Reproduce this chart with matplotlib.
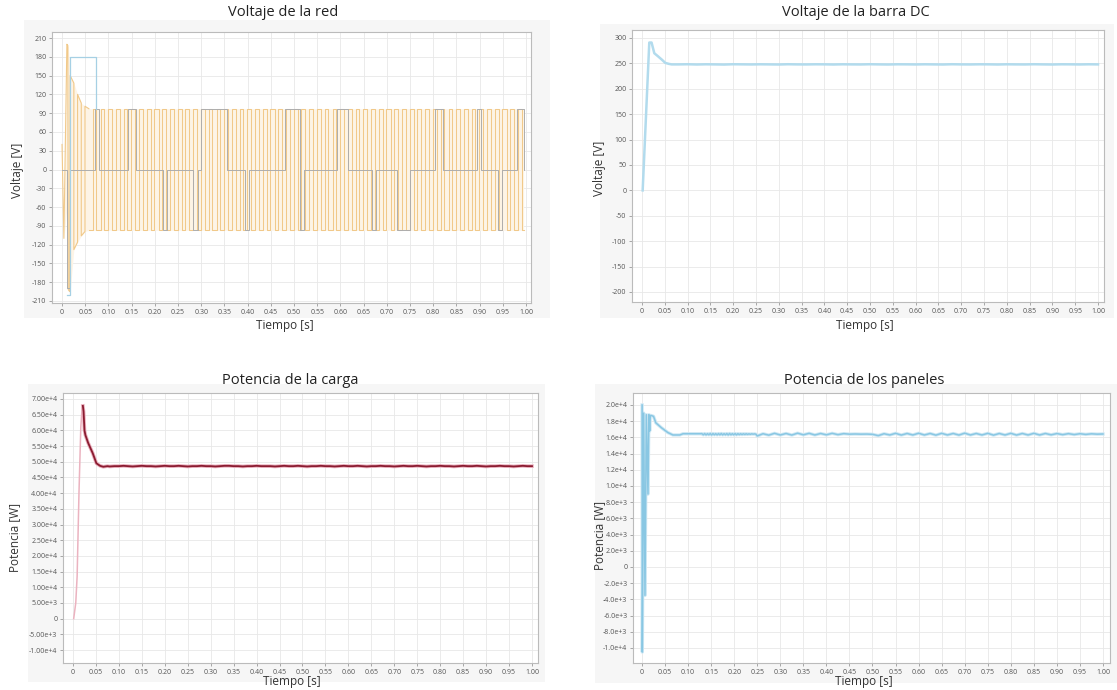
import numpy as np
import matplotlib
matplotlib.use("Agg")
import matplotlib.pyplot as plt
from matplotlib.patches import Rectangle

plt.rcParams['font.family'] = ['Open Sans', 'DejaVu Sans']

# ---------------- DATA ----------------
# Panel 1: Voltaje de la red
orange_tr_t = [0.000, 0.004, 0.0105, 0.0125, 0.0135, 0.0165, 0.0175, 0.0255, 0.0255,
               0.0335, 0.0335, 0.0415, 0.0415, 0.0495, 0.0495, 0.058]
orange_tr_v = [40, -110, 200, 198, -192, -195, 150, 138, -128, -116, 120, 106, -106,
               -99, 101, 97]
orange_edges = [0.058, 0.066, 0.074, 0.083, 0.091, 0.099, 0.108, 0.116, 0.124, 0.133,
                0.141, 0.149, 0.158, 0.166, 0.174, 0.183, 0.191, 0.199, 0.208, 0.216,
                0.224, 0.233, 0.241, 0.249, 0.258, 0.266, 0.274, 0.283, 0.291, 0.299,
                0.308, 0.316, 0.324, 0.333, 0.341, 0.349, 0.358, 0.366, 0.374, 0.383,
                0.391, 0.399, 0.408, 0.416, 0.424, 0.433, 0.441, 0.449, 0.458, 0.466,
                0.474, 0.483, 0.491, 0.499, 0.508, 0.516, 0.524, 0.533, 0.541, 0.549,
                0.558, 0.566, 0.574, 0.583, 0.591, 0.599, 0.608, 0.616, 0.624, 0.633,
                0.641, 0.649, 0.658, 0.666, 0.674, 0.683, 0.691, 0.699, 0.708, 0.716,
                0.724, 0.733, 0.741, 0.749, 0.758, 0.766, 0.774, 0.783, 0.791, 0.799,
                0.808, 0.816, 0.824, 0.833, 0.841, 0.849, 0.858, 0.866, 0.874, 0.883,
                0.891, 0.899, 0.908, 0.916, 0.924, 0.933, 0.941, 0.949, 0.958, 0.966,
                0.974, 0.983, 0.991]
orange_high = 97
orange_low = -97
orange_end = 0.995
env_t = [0.004, 0.0105, 0.0135, 0.0175, 0.0255, 0.0335, 0.0415, 0.0495, 0.058, 0.995]
env_hi = [-110, 200, 196, 150, 138, 120, 106, 101, 97, 97]
env_lo = [-110, -60, -192, -195, -128, -116, -106, -99, -97, -97]
gray_times = [0.000, 0.010, 0.017, 0.071, 0.079, 0.142, 0.160, 0.218, 0.226, 0.283,
              0.292, 0.300, 0.355, 0.395, 0.404, 0.480, 0.513, 0.521, 0.593, 0.616,
              0.668, 0.676, 0.722, 0.750, 0.804, 0.821, 0.894, 0.902, 0.940, 0.948,
              0.981, 0.995]
gray_levels = [0, -190, 0, 97, 0, 97, 0, -97, 0, -97, 0, 97, 0, -97, 0, 97, -97, 0,
               97, 0, -97, 0, -97, 0, 97, 0, 97, 0, -97, 0, 97, 0]
blue_t = [0.010, 0.017, 0.073, 0.0735]
blue_v = [-200, 180, 97, 97]

# Panel 2: Voltaje de la barra DC
dc_t = [0.0015, 0.016, 0.021, 0.027, 0.035, 0.044, 0.051, 0.059, 0.065]
dc_v = [0, 291, 291, 270, 264, 257, 251, 249, 248]
dc_steady_start = 0.08
dc_steady_step = 0.02
dc_steady = [248.0, 248.3, 247.8, 248.2, 248.0, 247.7, 248.3, 248.1, 247.9, 248.2,
             248.0, 247.8, 248.3, 248.0, 247.9, 248.2, 248.1, 247.8, 248.2, 248.0,
             247.9, 248.3, 248.0, 247.8, 248.2, 248.1, 247.9, 248.2, 248.0, 247.8,
             248.3, 248.0, 247.9, 248.2, 248.1, 247.8, 248.2, 248.0, 247.9, 248.3,
             248.0, 247.8, 248.2, 248.1, 247.9, 248.2, 248.0]

# Panel 3: Potencia de la carga
load_t = [0.0015, 0.006, 0.009, 0.013, 0.017, 0.020, 0.0215, 0.023, 0.025, 0.027,
          0.033, 0.043, 0.051, 0.059, 0.066, 0.075]
load_v = [0, 5.0e3, 1.35e4, 4.0e4, 6.1e4, 6.75e4, 6.78e4, 6.6e4, 6.0e4, 5.85e4,
          5.6e4, 5.27e4, 4.95e4, 4.87e4, 4.84e4, 4.86e4]
load_peak_t = 0.0215
load_steady_start = 0.08
load_steady_step = 0.01
load_steady_e4 = [4.85, 4.86, 4.86, 4.87, 4.86, 4.85, 4.86, 4.87, 4.86, 4.86,
                  4.85, 4.86, 4.87, 4.86, 4.86, 4.87, 4.86, 4.85, 4.86, 4.86,
                  4.87, 4.86, 4.86, 4.85, 4.86, 4.87, 4.87, 4.86, 4.86, 4.85,
                  4.86, 4.86, 4.87, 4.86, 4.86, 4.86, 4.85, 4.86, 4.87, 4.86,
                  4.86, 4.87, 4.86, 4.85, 4.86, 4.86, 4.87, 4.86, 4.86, 4.85,
                  4.86, 4.87, 4.86, 4.86, 4.87, 4.86, 4.85, 4.86, 4.86, 4.87,
                  4.86, 4.86, 4.85, 4.86, 4.87, 4.86, 4.86, 4.87, 4.86, 4.85,
                  4.86, 4.86, 4.87, 4.86, 4.86, 4.85, 4.86, 4.87, 4.86, 4.86,
                  4.87, 4.86, 4.85, 4.86, 4.86, 4.87, 4.86, 4.86, 4.85, 4.86,
                  4.87, 4.86, 4.86]

# Panel 4: Potencia de los paneles
pv_t = [0.0003, 0.0007, 0.0036, 0.0065, 0.0094, 0.013, 0.015, 0.0167, 0.018, 0.020,
        0.025, 0.030, 0.042, 0.056, 0.067, 0.082, 0.089, 0.127]
pv_v = [2.0e4, -1.05e4, 1.9e4, -3.5e3, 1.88e4, 9.0e3, 1.88e4, 1.68e4, 1.87e4, 1.87e4,
        1.86e4, 1.78e4, 1.72e4, 1.66e4, 1.63e4, 1.63e4, 1.645e4, 1.645e4]
pv_zig_start = 0.13
pv_zig_step = 0.003
pv_zig_e4 = [1.646, 1.632, 1.647, 1.631, 1.646, 1.632, 1.648, 1.630, 1.647, 1.632,
             1.646, 1.631, 1.647, 1.632, 1.648, 1.631, 1.646, 1.632, 1.647, 1.630,
             1.648, 1.632, 1.646, 1.632, 1.647, 1.631, 1.646, 1.634, 1.645, 1.635,
             1.645, 1.636, 1.645, 1.637, 1.644, 1.638, 1.644, 1.640, 1.643, 1.640]
pv_wave_start = 0.25
pv_wave_step = 0.0125
pv_wave_e4 = [1.618, 1.645, 1.628, 1.650, 1.630, 1.648, 1.629, 1.652, 1.632, 1.650,
              1.630, 1.648, 1.632, 1.650, 1.634, 1.646, 1.640, 1.642, 1.640, 1.641,
              1.638, 1.622, 1.645, 1.630, 1.650, 1.629, 1.648, 1.630, 1.651, 1.630,
              1.648, 1.628, 1.650, 1.630, 1.648, 1.629, 1.652, 1.630, 1.648, 1.630,
              1.650, 1.628, 1.648, 1.630, 1.650, 1.629, 1.648, 1.630, 1.650, 1.630,
              1.648, 1.632, 1.647, 1.634, 1.646, 1.635, 1.645, 1.637, 1.644, 1.640,
              1.642]

x_ticks = [0.05 * i for i in range(21)]
x_tick_labels = ['0'] + ['%.2f' % v for v in x_ticks[1:]]
tl_yticks = list(range(-210, 211, 30))
tr_yticks = list(range(-200, 301, 50))
bl_yticks = [5000 * i for i in range(-2, 15)]
br_yticks = [2000 * i for i in range(-5, 11)]

# ---------------- FIGURE ----------------
W, H = 1117, 690
fig = plt.figure(figsize=(W / 100, H / 100), dpi=100)
fig.patch.set_facecolor('white')


def fbox(l, t, r, b):
    return [l / W, 1 - b / H, (r - l) / W, (b - t) / H]


# light gray panel backgrounds
for (l, t, r, b) in [(24, 20, 550, 318), (600, 24, 1114, 318),
                     (28, 384, 545, 682), (595, 384, 1117, 683)]:
    fig.patches.append(Rectangle((l / W, 1 - b / H), (r - l) / W, (b - t) / H,
                                 transform=fig.transFigure, facecolor='#f6f6f6',
                                 edgecolor='none', zorder=-10))


def sci_label(v, digits):
    if v == 0:
        return '0'
    s = ('%.' + str(digits) + 'e') % v
    mant, exp = s.split('e')
    sign = exp[0]
    num = str(int(exp[1:]))
    return mant + 'e' + sign + num


def style_axes(ax, yticks, ylabels):
    ax.set_facecolor('white')
    ax.set_xticks(x_ticks)
    ax.set_xticklabels(x_tick_labels)
    ax.set_yticks(yticks)
    ax.set_yticklabels(ylabels)
    ax.grid(True, color='#e8e8e8', lw=0.6, zorder=0)
    ax.set_axisbelow(True)
    for s in ax.spines.values():
        s.set_color('#bbbbbb')
        s.set_linewidth(0.8)
    ax.tick_params(axis='both', labelsize=5, colors='#555555', length=2.5,
                   width=0.6, pad=1.5)
    ax.tick_params(axis='both', color='#999999')


title_kw = dict(fontsize=10.5, color='#222222', ha='center', va='center')
lab_kw = dict(fontsize=8.5, color='#333333', ha='center', va='center')

# ---- Panel 1 ----
ax1 = fig.add_axes(fbox(52, 32, 531, 303))
ax1.set_xlim(-0.0216, 1.0108)
ax1.set_ylim(-213.2, 219.6)
style_axes(ax1, tl_yticks, [str(v) for v in tl_yticks])
ax1.fill_between(env_t, env_lo, env_hi, color='#fdf4e6', lw=0, zorder=1)
ax1.plot(orange_tr_t, orange_tr_v, color='#f1c98a', lw=0.8, zorder=2)
o_levels = [orange_low if i % 2 == 0 else orange_high for i in range(len(orange_edges))]
ax1.step(orange_edges + [orange_end], o_levels + [o_levels[-1]], where='post',
         color='#f1c98a', lw=0.75, zorder=2)
ax1.step(gray_times, gray_levels, where='post', color='#adadad', lw=0.7, zorder=3)
ax1.step(blue_t, blue_v, where='post', color='#a6d0e4', lw=0.9, zorder=4)

# ---- Panel 2 ----
ax2 = fig.add_axes(fbox(632, 30, 1104, 302))
ax2.set_xlim(-0.0219, 1.0132)
ax2.set_ylim(-219.7, 315.7)
style_axes(ax2, tr_yticks, [str(v) for v in tr_yticks])
dc_all_t = dc_t + [dc_steady_start + dc_steady_step * i for i in range(len(dc_steady))]
dc_all_v = dc_v + dc_steady
ax2.plot(dc_all_t, dc_all_v, color='#b2dbed', lw=1.8, zorder=3)

# ---- Panel 3 ----
ax3 = fig.add_axes(fbox(63, 393, 538, 663))
ax3.set_xlim(-0.0218, 1.0131)
ax3.set_ylim(-14143, 71912)
style_axes(ax3, bl_yticks, [sci_label(v, 2) for v in bl_yticks])
ld_all_t = load_t + [load_steady_start + load_steady_step * i for i in range(len(load_steady_e4))]
ld_all_v = load_v + [v * 1e4 for v in load_steady_e4]
ax3.plot(ld_all_t, ld_all_v, color='#ebb3c0', lw=1.1, zorder=3)
idx = [i for i, t in enumerate(ld_all_t) if t >= load_peak_t]
ax3.plot([ld_all_t[i] for i in idx], [ld_all_v[i] for i in idx],
         color='#eab0be', lw=2.6, zorder=3)
ax3.plot([ld_all_t[i] for i in idx], [ld_all_v[i] for i in idx],
         color='#8b1c31', lw=1.3, zorder=4)

# ---- Panel 4 ----
ax4 = fig.add_axes(fbox(633, 393, 1110, 663))
ax4.set_xlim(-0.0195, 1.0152)
ax4.set_ylim(-11852, 21481)
style_axes(ax4, br_yticks, [sci_label(v, 1) for v in br_yticks])
pv_all_t = (pv_t + [pv_zig_start + pv_zig_step * i for i in range(len(pv_zig_e4))]
            + [pv_wave_start + pv_wave_step * i for i in range(len(pv_wave_e4))])
pv_all_v = pv_v + [v * 1e4 for v in pv_zig_e4] + [v * 1e4 for v in pv_wave_e4]
ax4.plot(pv_all_t, pv_all_v, color='#cfe8f4', lw=2.4, zorder=2)
ax4.plot(pv_all_t, pv_all_v, color='#89c7e3', lw=1.1, zorder=3)

# ---- Texts ----
fig.text(283 / W, 1 - 13 / H, 'Voltaje de la red', **title_kw)
fig.text(856 / W, 1 - 13 / H, 'Voltaje de la barra DC', **title_kw)
fig.text(290 / W, 1 - 380 / H, 'Potencia de la carga', **title_kw)
fig.text(864 / W, 1 - 381 / H, 'Potencia de los paneles', **title_kw)

fig.text(285 / W, 1 - 325 / H, 'Tiempo [s]', **lab_kw)
fig.text(865 / W, 1 - 325 / H, 'Tiempo [s]', **lab_kw)
fig.text(292 / W, 1 - 682 / H, 'Tiempo [s]', **lab_kw)
fig.text(864 / W, 1 - 682 / H, 'Tiempo [s]', **lab_kw)

fig.text(18 / W, 1 - 170 / H, 'Voltaje [V]', rotation=90, **lab_kw)
fig.text(599 / W, 1 - 168 / H, 'Voltaje [V]', rotation=90, **lab_kw)
fig.text(15 / W, 1 - 537 / H, 'Potencia [W]', rotation=90, **lab_kw)
fig.text(600 / W, 1 - 535 / H, 'Potencia [W]', rotation=90, **lab_kw)

fig.savefig('out.png', dpi=100, facecolor='white')
